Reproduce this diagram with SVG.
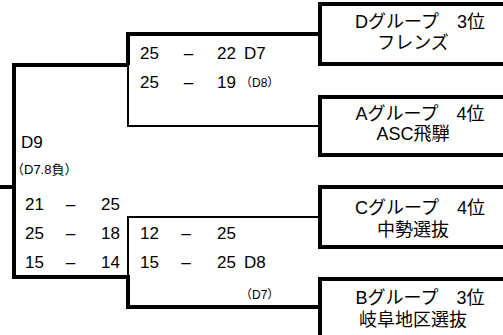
<svg xmlns="http://www.w3.org/2000/svg" width="503" height="335" viewBox="0 0 503 335">
<style>
.bg{fill:#fff}
.box{fill:none;stroke:#000;stroke-width:4}
.thick{fill:none;stroke:#000;stroke-width:4}
.thin{fill:none;stroke:#000;stroke-width:2}
text{font-family:"Liberation Sans","Noto Sans CJK JP",sans-serif;fill:#000}
.t{font-size:18px;text-anchor:middle}
.s{font-size:17px}
.e{text-anchor:end}
.m{text-anchor:middle}
.sm{font-size:12px}
.sm2{font-size:13px}
</style>
<rect class="bg" x="0" y="0" width="503" height="335"/>
<g id="connectors">
<path class="thick" d="M320,34 H128 V65"/>
<path class="thin" d="M128,65 V126 H320"/>
<path class="thick" d="M128,65 H14 V277 H128 V307 H320"/>
<path class="thin" d="M128,277 V217 H320"/>
<path class="thick" d="M0,187 H14"/>
</g>
<g id="team-D3">
<path class="box" d="M506,4 H320 V64 H506"/>
<text class="t" x="420" y="28">Dグループ　3位</text>
<text class="t" x="413" y="49">フレンズ</text>
</g>
<g id="team-A4">
<path class="box" d="M506,97 H320 V155 H506"/>
<text class="t" x="420" y="120">Aグループ　4位</text>
<text class="t" x="413" y="140">ASC飛騨</text>
</g>
<g id="team-C4">
<path class="box" d="M506,187 H320 V247 H506"/>
<text class="t" x="420" y="214">Cグループ　4位</text>
<text class="t" x="413" y="236">中勢選抜</text>
</g>
<g id="team-B3">
<path class="box" d="M506,279 H320 V339 H506"/>
<text class="t" x="420" y="304">Bグループ　3位</text>
<text class="t" x="413" y="326">岐阜地区選抜</text>
</g>
<g id="match-D7">
<text class="s e" x="159" y="59">25</text>
<text class="s m" x="188.5" y="59">–</text>
<text class="s e" x="236" y="59">22</text>
<text class="s" x="244" y="59">D7</text>
<text class="s e" x="159" y="88">25</text>
<text class="s m" x="188.5" y="88">–</text>
<text class="s e" x="236" y="88">19</text>
<text class="sm" x="240" y="87">（D8）</text>
</g>
<g id="match-D8">
<text class="s e" x="159" y="239">12</text>
<text class="s m" x="186" y="239">–</text>
<text class="s e" x="236" y="239">25</text>
<text class="s e" x="159" y="268">15</text>
<text class="s m" x="186" y="268">–</text>
<text class="s e" x="236" y="268">25</text>
<text class="s" x="244" y="268">D8</text>
<text class="sm" x="240" y="299">（D7）</text>
</g>
<g id="match-D9">
<text class="s" x="21" y="148">D9</text>
<text class="sm2" x="11" y="174">（D7.8負）</text>
<text class="s e" x="44" y="210">21</text>
<text class="s m" x="70.5" y="210">–</text>
<text class="s e" x="120" y="210">25</text>
<text class="s e" x="44" y="239">25</text>
<text class="s m" x="70.5" y="239">–</text>
<text class="s e" x="120" y="239">18</text>
<text class="s e" x="44" y="268">15</text>
<text class="s m" x="70.5" y="268">–</text>
<text class="s e" x="120" y="268">14</text>
</g>
</svg>
